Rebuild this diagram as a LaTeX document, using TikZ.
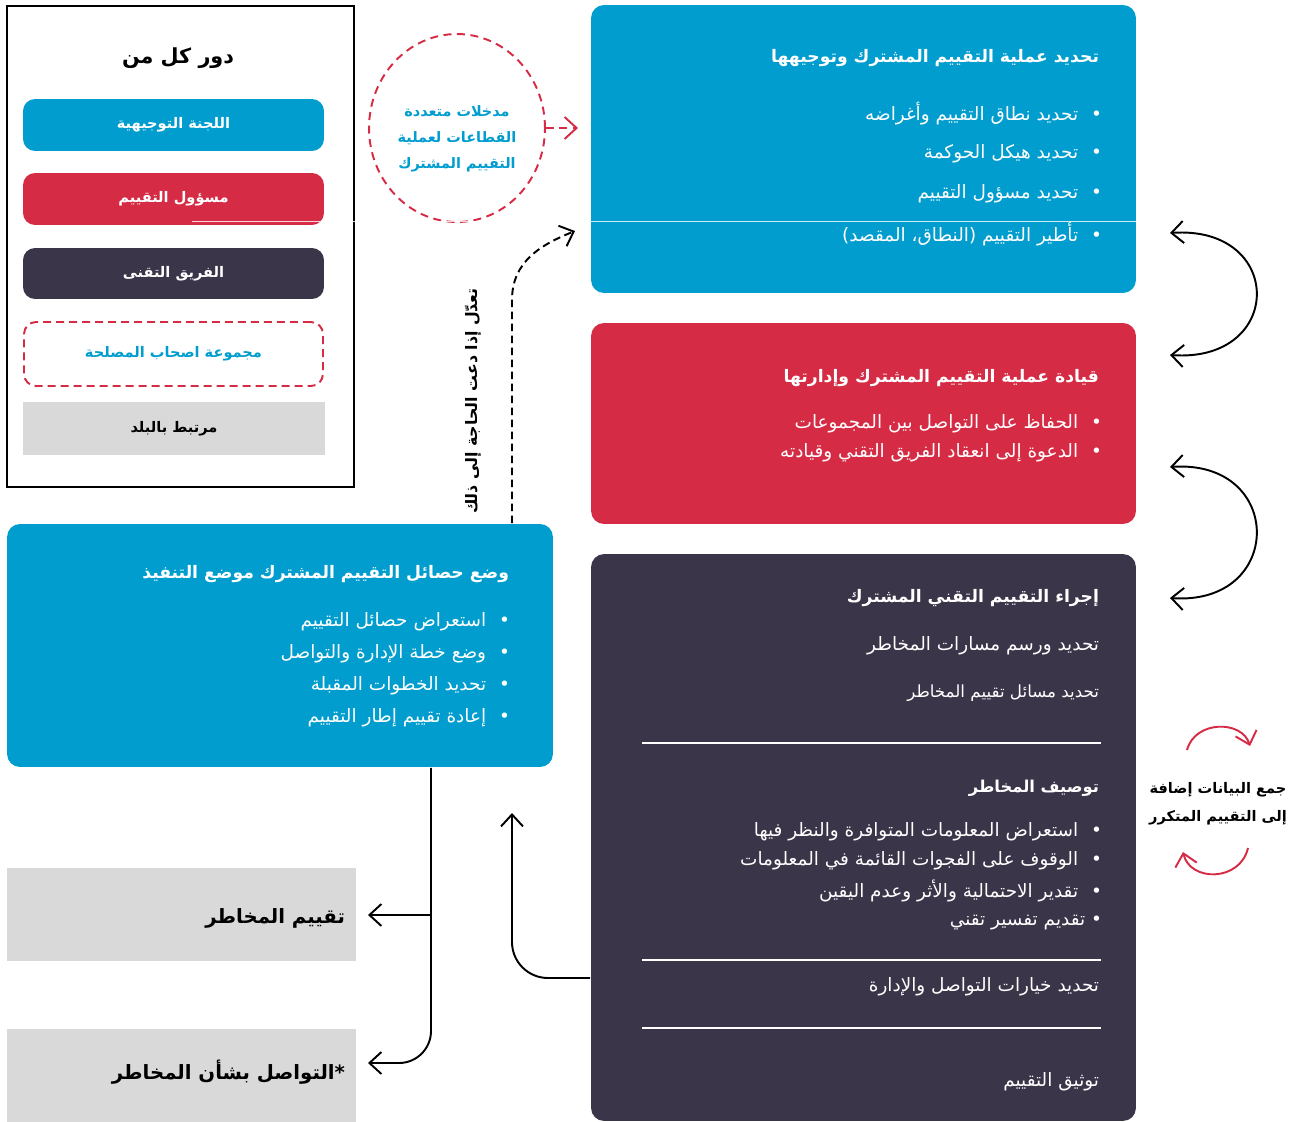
\documentclass[tikz,border=0pt]{standalone}
\usepackage{fontspec}
\usetikzlibrary{arrows.meta,shapes.geometric}
\newfontfamily\arabicfont[Script=Arabic]{DejaVu Sans}
\TeXXeTstate=1
\newcommand{\rl}[1]{\beginR #1\endR}
\newcommand{\bl}{•\hspace{0.26cm}}
\definecolor{jeeBlue}{RGB}{0,157,206}
\definecolor{jeeRed}{RGB}{214,43,68}
\definecolor{jeeDark}{RGB}{59,53,73}
\definecolor{jeeGray}{RGB}{217,217,217}

\begin{document}
\begin{tikzpicture}[x=0.02cm, y=-0.02cm, line width=1.1pt, >={Straight Barb[length=2.4mm,width=4.4mm]},
    role node/.style={rounded corners=0.24cm, minimum width=6.02cm, minimum height=1.04cm, inner sep=0, text=white, font=\arabicfont\bfseries\fontsize{8.3}{10}\selectfont},
    stage node/.style={rounded corners=0.26cm, inner sep=0, minimum width=10.9cm},
    head node/.style={anchor=east, inner sep=0, text=white, font=\arabicfont\bfseries\fontsize{9.8}{12}\selectfont},
    item node/.style={anchor=east, inner sep=0, text=white, font=\arabicfont\fontsize{10.5}{12}\selectfont},
    gray node/.style={fill=jeeGray, inner sep=0, minimum width=6.98cm, minimum height=1.86cm},
    big node/.style={anchor=east, inner sep=0, font=\arabicfont\bfseries\fontsize{11.2}{13}\selectfont}]
  \tikzstyle{every node}=[font=\arabicfont]

  \useasboundingbox (0,0) rectangle (1298,1122);

  \node[draw, line width=1.4pt, inner sep=0, minimum width=6.94cm, minimum height=9.62cm] (legend) at (180.5,246.5) {};
  \node[font=\arabicfont\bfseries\fontsize{11.8}{14}\selectfont] (legendTitle) at (178,58) {\rl{دور كل من}};
  \node[role node, fill=jeeBlue] (steer) at (173.5,125) {\rl{اللجنة التوجيهية}};
  \node[role node, fill=jeeRed] (lead) at (173.5,199) {\rl{مسؤول التقييم}};
  \node[role node, fill=jeeDark, minimum height=1.02cm] (team) at (173.5,273.5) {\rl{الفريق التقنى}};
  \node[role node, draw=jeeRed, dash pattern=on 1.6mm off 1mm, text=jeeBlue, minimum width=5.98cm, minimum height=1.28cm] (stake) at (173.5,354) {\rl{مجموعة اصحاب المصلحة}};
  \node[role node, fill=jeeGray, rounded corners=0, text=black, minimum width=6.04cm, minimum height=1.06cm] (country) at (174,428.5) {\rl{مرتبط بالبلد}};

  \node[ellipse, draw=jeeRed, dash pattern=on 1.6mm off 1.1mm, inner sep=0, minimum width=3.52cm, minimum height=3.76cm] (inputs) at (457,128) {};
  \node[align=center, text=jeeBlue, font=\arabicfont\bfseries\fontsize{8.2}{14.7}\selectfont] (inputsText) at (457,139) {\rl{مدخلات متعددة}\\\rl{القطاعات لعملية}\\\rl{التقييم المشترك}};
  \coordinate (inputsTip) at (578,128);
  \draw[->, jeeRed, dash pattern=on 1.6mm off 1.1mm] (inputs.east) -- (inputsTip);

  \node[stage node, fill=jeeBlue, minimum height=5.76cm] (setup) at (863.5,149) {};
  \node[stage node, fill=jeeRed, minimum height=4.02cm] (leadStage) at (863.5,423.5) {};
  \node[stage node, fill=jeeDark, minimum height=11.34cm] (tech) at (863.5,837.5) {};
  \node[stage node, fill=jeeBlue, minimum width=10.92cm, minimum height=4.86cm] (impl) at (280,645.5) {};
  \node[gray node] (risk) at (181.5,914.5) {};
  \node[gray node] (comm) at (181.5,1075.5) {};
  \draw[white, opacity=0.8, line width=0.5pt] (192,221) -- (1136,221);

  \node[head node] (setupHead) at (1100,58) {\rl{تحديد عملية التقييم المشترك وتوجيهها}};
  \node[item node] (setupA) at (1103,114) {\rl{\bl تحديد نطاق التقييم وأغراضه}};
  \node[item node] (setupB) at (1103,154) {\rl{\bl تحديد هيكل الحوكمة}};
  \node[item node] (setupC) at (1103,194) {\rl{\bl تحديد مسؤول التقييم}};
  \node[item node] (setupD) at (1103,234) {\rl{\bl تأطير التقييم (النطاق، المقصد)}};

  \node[head node] (leadHead) at (1100,378) {\rl{قيادة عملية التقييم المشترك وإدارتها}};
  \node[item node] (leadA) at (1103,424) {\rl{\bl الحفاظ على التواصل بين المجموعات}};
  \node[item node] (leadB) at (1103,453) {\rl{\bl الدعوة إلى انعقاد الفريق التقني وقيادته}};

  \node[head node] (techHead) at (1100,598) {\rl{إجراء التقييم التقني المشترك}};
  \node[item node] (techA) at (1100,646) {\rl{تحديد ورسم مسارات المخاطر}};
  \node[item node, font=\arabicfont\fontsize{9.5}{11}\selectfont] (techB) at (1100,693) {\rl{تحديد مسائل تقييم المخاطر}};
  \node[head node, font=\arabicfont\bfseries\fontsize{9.3}{11}\selectfont] (techHeadB) at (1100,788) {\rl{توصيف المخاطر}};
  \node[item node] (techC) at (1103,832) {\rl{\bl استعراض المعلومات المتوافرة والنظر فيها}};
  \node[item node] (techD) at (1103,861) {\rl{\bl الوقوف على الفجوات القائمة في المعلومات}};
  \node[item node] (techE) at (1103,891) {\rl{\bl تقدير الاحتمالية والأثر وعدم اليقين}};
  \node[item node] (techF) at (1103,923) {\rl{• تقديم تفسير تقني}};
  \node[item node] (techG) at (1100,987) {\rl{تحديد خيارات التواصل والإدارة}};
  \node[item node] (techH) at (1100,1082) {\rl{توثيق التقييم}};
  \foreach \y in {743,960,1028}
    \draw[white, line width=0.6pt] (642,\y) -- (1101,\y);

  \node[head node] (implHead) at (510,574) {\rl{وضع حصائل التقييم المشترك موضع التنفيذ}};
  \node[item node] (implA) at (511,622) {\rl{\bl استعراض حصائل التقييم}};
  \node[item node] (implB) at (511,654) {\rl{\bl وضع خطة الإدارة والتواصل}};
  \node[item node] (implC) at (511,686) {\rl{\bl تحديد الخطوات المقبلة}};
  \node[item node] (implD) at (511,718) {\rl{\bl إعادة تقييم إطار التقييم}};

  \node[big node] (riskText) at (346,918) {\rl{تقييم المخاطر}};
  \node[big node] (commText) at (346,1072) {\rl{*التواصل بشأن المخاطر}};

  \node[rotate=90, font=\arabicfont\bfseries\fontsize{9}{11}\selectfont] (reviseNote) at (473,401) {\rl{تعدّل إذا دعت الحاجة إلى ذلك}};
  \node[align=center, font=\arabicfont\bfseries\fontsize{8.3}{16}\selectfont] (iterNote) at (1218,804) {\rl{جمع البيانات إضافة}\\\rl{إلى التقييم المتكرر}};

  \coordinate (fork) at (431,915);
  \coordinate (riskTip) at (368,915);
  \coordinate (commTip) at (368,1063);
  \draw[->, rounded corners=0.64cm] (impl.south -| fork) |- (commTip);
  \draw[->] (fork) -- (riskTip);

  \coordinate (backTip) at (512,813);
  \draw[->, rounded corners=0.72cm] (tech.west |- 0,978) -| (backTip);

  \coordinate (reviseTip) at (575,231);
  \draw[->, dash pattern=on 1.5mm off 0.9mm] (impl.north -| 512,0) -- (512,300) .. controls (512,262) and (540,245) .. (reviseTip);

  \coordinate (loopA1) at (1170,233);
  \coordinate (loopA2) at (1170,355);
  \coordinate (loopB1) at (1170,467);
  \coordinate (loopB2) at (1170,598);
  \draw[<->] (loopA1) .. controls (1285,225) and (1285,363) .. (loopA2);
  \draw[<->] (loopB1) .. controls (1285,459) and (1285,606) .. (loopB2);

  \coordinate (iterA1) at (1187,750);
  \coordinate (iterA2) at (1250,746);
  \coordinate (iterB1) at (1248,848);
  \coordinate (iterB2) at (1183,852);
  \draw[->, jeeRed] (iterA1) .. controls (1195,720) and (1242,720) .. (iterA2);
  \draw[->, jeeRed] (iterB1) .. controls (1240,882) and (1190,882) .. (iterB2);
\end{tikzpicture}
\end{document}
